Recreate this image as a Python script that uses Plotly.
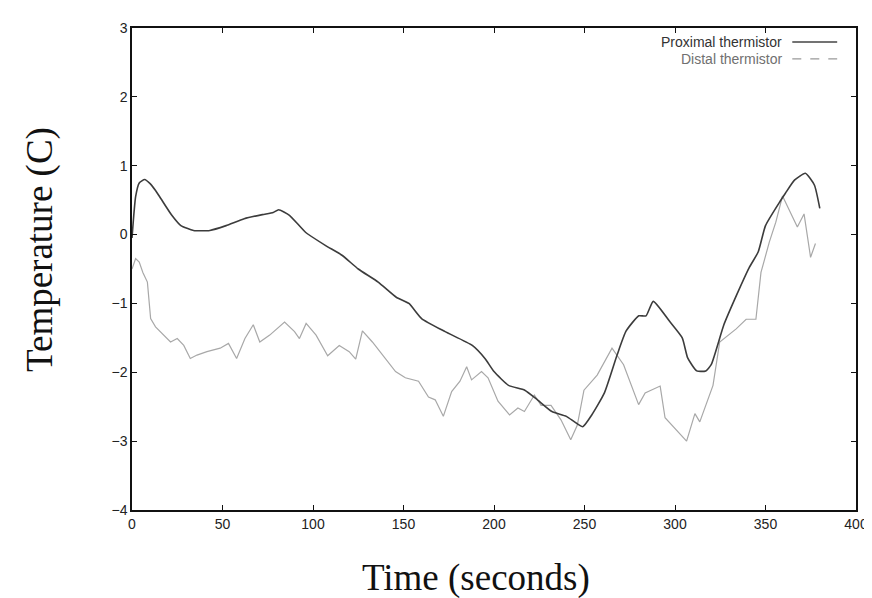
import plotly.graph_objects as go

# Proximal thermistor (solid dark curve)
prox_t = [0, 2, 4, 7, 10, 13, 16, 22, 27, 34, 43, 52, 62, 72, 78, 81, 87, 96,
          107, 116, 125, 136, 146, 153, 160, 173, 188, 195, 200, 208, 217, 224,
          232, 240, 249, 254, 261, 268, 273, 280, 284, 288, 297, 304, 307, 312,
          317, 320, 327, 334, 341, 346, 350, 358, 361, 366, 372, 377, 380]
prox_temp = [-0.05, 0.55, 0.75, 0.8, 0.74, 0.64, 0.52, 0.28, 0.13, 0.06, 0.06, 0.13,
             0.23, 0.29, 0.32, 0.36, 0.28, 0.03, -0.16, -0.30, -0.50, -0.69, -0.91,
             -1.0, -1.22, -1.41, -1.61, -1.80, -1.99, -2.19, -2.26, -2.40, -2.57,
             -2.64, -2.79, -2.62, -2.30, -1.75, -1.40, -1.18, -1.18, -0.97, -1.26,
             -1.50, -1.79, -1.98, -1.98, -1.89, -1.31, -0.88, -0.48, -0.25, 0.13,
             0.48, 0.60, 0.79, 0.89, 0.72, 0.38]

# Distal thermistor (light grey noisy curve)
dist_t = [0, 2, 4, 6, 8.5, 10.3, 13, 17.6, 21.3, 25, 28.6, 32.2, 35.9, 41.4, 48.7,
          53.3, 57.8, 62.4, 67, 70.6, 76.1, 84.3, 89.8, 92.5, 96.2, 101.7, 108.1,
          114.5, 120, 123.6, 127.3, 132.8, 140, 145.6, 151, 158.3, 163.8, 167.5,
          172, 176.6, 181.2, 184.9, 187.6, 193.1, 196.7, 202.2, 208.6, 213.2,
          216.8, 220.5, 222.3, 226, 231.5, 237, 242.4, 246, 249.7, 257, 265.2,
          271.6, 279.9, 283.5, 291.8, 294.5, 306.4, 311, 313.7, 321, 324.7, 333.8,
          339.3, 344.7, 347.5, 352.1, 355.7, 359.4, 363, 367.6, 371.3, 374.9, 377.6]
dist_temp = [-0.5, -0.35, -0.4, -0.55, -0.69, -1.22, -1.34, -1.46, -1.56, -1.51,
             -1.61, -1.80, -1.75, -1.70, -1.65, -1.58, -1.80, -1.51, -1.31, -1.56,
             -1.46, -1.27, -1.41, -1.51, -1.29, -1.46, -1.76, -1.61, -1.70, -1.81,
             -1.40, -1.56, -1.80, -1.99, -2.08, -2.13, -2.36, -2.40, -2.64, -2.28,
             -2.13, -1.92, -2.11, -1.99, -2.08, -2.42, -2.62, -2.52, -2.57, -2.42,
             -2.33, -2.48, -2.48, -2.69, -2.98, -2.77, -2.26, -2.04, -1.65, -1.89,
             -2.47, -2.30, -2.20, -2.66, -3.00, -2.60, -2.72, -2.19, -1.56, -1.37,
             -1.23, -1.23, -0.55, -0.11, 0.18, 0.56, 0.37, 0.11, 0.30, -0.33, -0.13]

x_ticks = [0, 50, 100, 150, 200, 250, 300, 350, 400]
y_ticks = [-4, -3, -2, -1, 0, 1, 2, 3]

fig = go.Figure()

fig.add_trace(go.Scatter(
    x=dist_t, y=dist_temp, mode="lines", name="Distal thermistor",
    line=dict(color="#a8a8a8", width=1.2),
))
fig.add_trace(go.Scatter(
    x=prox_t, y=prox_temp, mode="lines", name="Proximal thermistor",
    line=dict(color="#3c3c3c", width=1.6, shape="spline", smoothing=0.5),
))

# gnuplot style key: right aligned text with the sample line to its right
key = [("Proximal thermistor", "#333333", "solid", 0.971),
       ("Distal thermistor", "#707070", "dash", 0.936)]
for label, col, dash, ypos in key:
    fig.add_annotation(
        x=0.901, y=ypos, xref="paper", yref="paper", text=label,
        showarrow=False, xanchor="right", yanchor="middle",
        font=dict(family="Liberation Sans, Arial", size=14, color=col),
    )
    fig.add_shape(
        type="line", xref="paper", yref="paper",
        x0=0.912, x1=0.974, y0=ypos, y1=ypos,
        line=dict(color="#444444" if dash == "solid" else "#999999",
                  width=1.3, dash=dash),
    )

# axis titles, placed like the original figure
fig.add_annotation(
    x=0.475, y=-0.142, xref="paper", yref="paper", text="Time (seconds)",
    showarrow=False, xanchor="center", yanchor="middle",
    font=dict(family="Liberation Serif, Times New Roman", size=37, color="#111111"),
)
fig.add_annotation(
    x=-0.128, y=0.54, xref="paper", yref="paper", text="Temperature (C)",
    showarrow=False, textangle=-90, xanchor="center", yanchor="middle",
    font=dict(family="Liberation Serif, Times New Roman", size=37, color="#111111"),
)

axis_common = dict(
    showline=True, linecolor="#111111", linewidth=1.5, mirror="ticks",
    ticks="inside", ticklen=5, tickwidth=1, tickcolor="#111111",
    showgrid=False, zeroline=False,
    tickfont=dict(family="Liberation Sans, Arial", size=14, color="#222222"),
)

fig.update_xaxes(range=[0, 400], tickvals=x_ticks, **axis_common)
fig.update_yaxes(range=[-4, 3], tickvals=y_ticks, **axis_common)

fig.update_layout(
    width=872, height=598,
    margin=dict(l=124, r=18, t=19, b=96),
    plot_bgcolor="white", paper_bgcolor="white",
    showlegend=False,
)

fig.write_html("out.html")
